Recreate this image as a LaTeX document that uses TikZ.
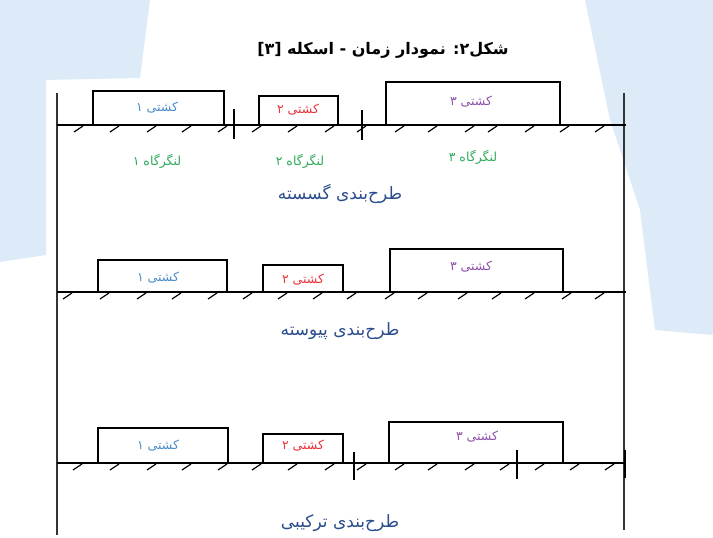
\documentclass[tikz,border=0pt]{standalone}
\usepackage{fontspec}
\TeXXeTstate=1
\newfontfamily\fa[Script=Arabic]{DejaVu Sans}
\newcommand\fatxt[1]{{\fa\beginR #1\endR}}
\definecolor{shipA}{HTML}{4A8CC8}
\definecolor{shipB}{HTML}{E8333A}
\definecolor{shipC}{HTML}{8E50A8}
\definecolor{berth}{HTML}{2EAA5A}
\definecolor{capt}{HTML}{2B4C8C}
\definecolor{wm}{HTML}{DDEBF8}
\definecolor{frameline}{HTML}{333333}
\tikzset{
  shipbox/.style={line width=2.2pt, line join=miter},
  ground/.style={line width=2pt},
  border/.style={line width=1.3pt, draw=frameline},
  sep/.style={line width=1.8pt},
  hatch/.style={line width=1.2pt},
  shiplbl/.style={font=\fontsize{12.5}{14}\selectfont, inner sep=1pt},
  berthlbl/.style={font=\fontsize{12.5}{14}\selectfont, text=berth, inner sep=1pt},
  caplbl/.style={font=\fontsize{17}{19}\selectfont, text=capt, inner sep=1pt},
}
\begin{document}
\begin{tikzpicture}[x=1pt,y=-1pt]
\useasboundingbox (0,0) rectangle (713,538);
\clip (0,0) rectangle (713,538);
% faint watermark
\fill[wm] (0,0) -- (150,0) -- (140,78) -- (46,80) -- (46,255) -- (0,262) -- cycle;
\fill[wm] (585,0) -- (713,0) -- (713,335) -- (655,330) -- (640,210) -- (610,120) -- cycle;
% title
\node (title) at (383,50) {\fa\bfseries\fontsize{16}{18}\selectfont\beginR شکل۲:  نمودار زمان - اسکله [۳]\endR};
% frame verticals
\coordinate (LT) at (57,93); \coordinate (LB) at (57,535);
\coordinate (RT) at (624,93); \coordinate (RB) at (624,530);
\draw[border] (LT) -- (LB);
\draw[border] (RT) -- (RB);
% ---------- section 1 : discrete
\coordinate (g1a) at (57,125); \coordinate (g1b) at (626,125);
\draw[shipbox] (93,125) |- (224,91) -- (224,125);
\draw[shipbox] (259,125) |- (338,96) -- (338,125);
\draw[shipbox] (386,125) |- (560,82) -- (560,125);
\draw[ground] (g1a) -- (g1b);
\foreach \x in {79,115,152,187,223,257,293,330,362,400,433,470,493,530,565,600}
  \draw[hatch] (\x+4,126) -- (\x-5,132);
\draw[sep] (234,109) -- (234,139);
\draw[sep] (362,110) -- (362,140);
\node[shiplbl, text=shipA] (s11) at (157,108) {\fatxt{کشتی ۱}};
\node[shiplbl, text=shipB] (s12) at (298,110) {\fatxt{کشتی ۲}};
\node[shiplbl, text=shipC] (s13) at (471,102) {\fatxt{کشتی ۳}};
\node[berthlbl] (b1) at (157,161) {\fatxt{لنگرگاه ۱}};
\node[berthlbl] (b2) at (300,161) {\fatxt{لنگرگاه ۲}};
\node[berthlbl] (b3) at (473,157) {\fatxt{لنگرگاه ۳}};
\node[caplbl] (c1) at (340,194) {\fatxt{طرح^^^^200cبندی گسسته}};
% ---------- section 2 : continuous
\coordinate (g2a) at (57,292); \coordinate (g2b) at (626,292);
\draw[shipbox] (98,292) |- (227,260) -- (227,292);
\draw[shipbox] (263,292) |- (343,265) -- (343,292);
\draw[shipbox] (390,292) |- (563,249) -- (563,292);
\draw[ground] (g2a) -- (g2b);
\foreach \x in {68,105,142,177,213,248,283,318,352,390,423,463,497,530,567,600}
  \draw[hatch] (\x+4,293) -- (\x-5,299);
\node[shiplbl, text=shipA] (s21) at (158,278) {\fatxt{کشتی ۱}};
\node[shiplbl, text=shipB] (s22) at (303,280) {\fatxt{کشتی ۲}};
\node[shiplbl, text=shipC] (s23) at (471,267) {\fatxt{کشتی ۳}};
\node[caplbl] (c2) at (340,331) {\fatxt{طرح^^^^200cبندی پیوسته}};
% ---------- section 3 : hybrid
\coordinate (g3a) at (57,463); \coordinate (g3b) at (626,463);
\draw[shipbox] (98,463) |- (228,428) -- (228,463);
\draw[shipbox] (263,463) |- (343,434) -- (343,463);
\draw[shipbox] (389,463) |- (563,422) -- (563,463);
\draw[ground] (g3a) -- (g3b);
\foreach \x in {78,115,152,187,223,257,293,330,362,400,433,470,505,540,575,610}
  \draw[hatch] (\x+4,464) -- (\x-5,470);
\draw[sep] (354,452) -- (354,480);
\draw[sep] (517,450) -- (517,479);
\draw[sep] (625,450) -- (625,478);
\node[shiplbl, text=shipA] (s31) at (158,446) {\fatxt{کشتی ۱}};
\node[shiplbl, text=shipB] (s32) at (303,446) {\fatxt{کشتی ۲}};
\node[shiplbl, text=shipC] (s33) at (477,437) {\fatxt{کشتی ۳}};
\node[caplbl] (c3) at (340,523) {\fatxt{طرح^^^^200cبندی ترکیبی}};
\end{tikzpicture}
\end{document}
